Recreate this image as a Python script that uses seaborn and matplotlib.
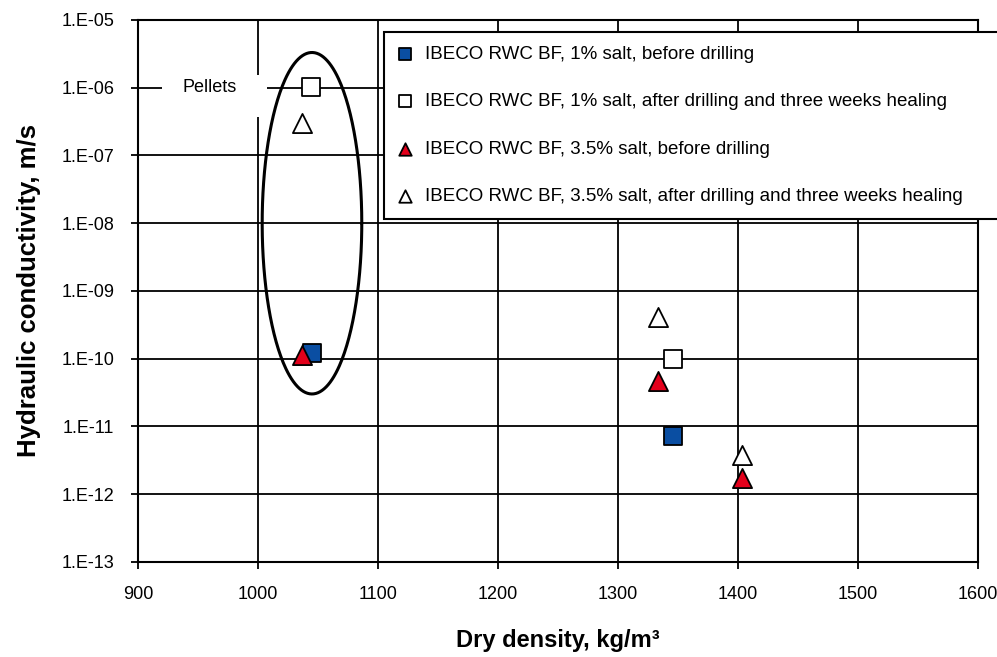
import numpy as np
import pandas as pd
import matplotlib
matplotlib.use("Agg")
import matplotlib.pyplot as plt
from matplotlib.patches import Rectangle
from matplotlib.ticker import FuncFormatter, LogLocator, NullLocator
import seaborn as sns

# ----------------------
# Data
# ----------------------
labels = [
    "IBECO RWC BF, 1% salt, before drilling",
    "IBECO RWC BF, 1% salt, after drilling and three weeks healing",
    "IBECO RWC BF, 3.5% salt, before drilling",
    "IBECO RWC BF, 3.5% salt, after drilling and three weeks healing",
]
density_1_before = [1045, 1346]
k_1_before = [1.2e-10, 7.2e-12]
density_1_after = [1044, 1346]
k_1_after = [1.03e-6, 1.0e-10]
density_35_before = [1037, 1333, 1403]
k_35_before = [1.15e-10, 4.7e-11, 1.75e-12]
density_35_after = [1037, 1333, 1403]
k_35_after = [3.0e-7, 4.1e-10, 3.8e-12]

x_ticks = [900, 1000, 1100, 1200, 1300, 1400, 1500, 1600]
y_exponents = list(range(-13, -4))

# pellets ellipse: centre (density, log10 k) and half-axes
pellet_centre = (1045, -8.0)
pellet_half = (41.5, 2.52)

# ----------------------
# Style
# ----------------------
sns.set_style("white")
plt.rcParams["font.family"] = ["Liberation Sans", "DejaVu Sans"]
plt.rcParams.update({"text.color": "black", "axes.labelcolor": "black",
                     "xtick.color": "black", "ytick.color": "black"})

series = [
    (density_1_before, k_1_before, "s", "#0a4ea2", 170),
    (density_1_after, k_1_after, "s", "white", 170),
    (density_35_before, k_35_before, "^", "#e3001b", 190),
    (density_35_after, k_35_after, "^", "white", 190),
]

fig = plt.figure(figsize=(9.97, 6.57), dpi=100)
ax = fig.add_axes([0.1384, 0.1446, 0.8425, 0.825])

for (xs, ys, mk, col, size), lab in zip(series, labels):
    df = pd.DataFrame({"density": xs, "k": ys})
    sns.scatterplot(data=df, x="density", y="k", marker=mk, color=col, s=size,
                    edgecolor="black", linewidth=1.3, label=lab, ax=ax, zorder=5)

ax.set_yscale("log")
ax.set_xlim(x_ticks[0], x_ticks[-1])
ax.set_ylim(10.0 ** y_exponents[0], 10.0 ** y_exponents[-1])
ax.set_xticks(x_ticks)
ax.yaxis.set_major_locator(LogLocator(base=10, numticks=20))
ax.yaxis.set_minor_locator(NullLocator())
ax.yaxis.set_major_formatter(FuncFormatter(lambda v, p: f"1.E-{-int(round(np.log10(v))):02d}"))

ax.grid(True, color="black", linewidth=1.3)
ax.set_axisbelow(True)
for sp in ax.spines.values():
    sp.set_color("black")
    sp.set_linewidth(1.5)

ax.tick_params(axis="both", which="major", direction="out", length=5, width=1.3,
               color="black", labelcolor="black", labelsize=13, pad=12,
               left=True, bottom=True)

ax.set_xlabel("Dry density, kg/m³", fontsize=17, fontweight="bold", labelpad=19)
ax.set_ylabel("Hydraulic conductivity, m/s", fontsize=18.5, fontweight="bold", labelpad=15)

# ellipse around the pellet samples
t = np.linspace(0, 2 * np.pi, 300)
ex = pellet_centre[0] + pellet_half[0] * np.cos(t)
ey = 10.0 ** (pellet_centre[1] + pellet_half[1] * np.sin(t))
ax.plot(ex, ey, color="black", linewidth=2.2, zorder=4)

# "Pellets" label with a white patch over the grid
ax.add_patch(Rectangle((920, 10 ** -6.43), 87.5, 10 ** -5.81 - 10 ** -6.43,
                       facecolor="white", edgecolor="none", zorder=2))
ax.text(960, 1e-6, "Pellets", fontsize=13, ha="center", va="center", zorder=3)

leg = ax.legend(loc="upper left", bbox_to_anchor=(0.2923, 0.978, 0.74, 0.0),
                mode="expand", fontsize=13.5, markerscale=0.65, frameon=True,
                fancybox=False, framealpha=1, edgecolor="black", borderpad=0.76,
                labelspacing=1.6, handlelength=0.8, handletextpad=0.64,
                borderaxespad=0)
leg.get_frame().set_linewidth(1.5)
leg.set_zorder(10)

fig.savefig("out.png", dpi=100)
